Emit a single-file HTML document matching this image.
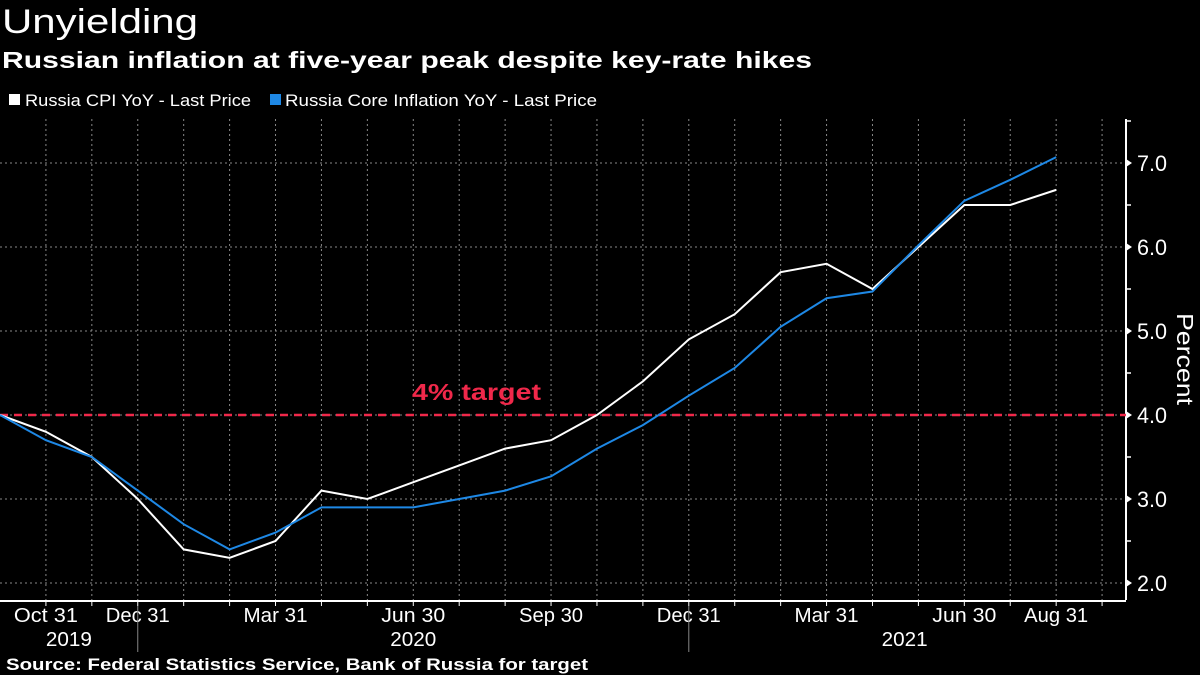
<!DOCTYPE html>
<html><head><meta charset="utf-8"><style>
html,body{margin:0;padding:0;background:#000;}
body{width:1200px;height:675px;overflow:hidden;font-family:"Liberation Sans",sans-serif;color:#fff;position:relative;}
</style></head><body>
<svg id="chart" width="1200" height="675" style="position:absolute;left:0;top:0;" font-family="Liberation Sans, sans-serif">
<text x="2" y="33" fill="#fff" font-size="34" textLength="196" lengthAdjust="spacingAndGlyphs">Unyielding</text>
<text x="2" y="68" fill="#fff" font-size="23" font-weight="bold" textLength="810" lengthAdjust="spacingAndGlyphs">Russian inflation at five-year peak despite key-rate hikes</text>
<g><rect x="9" y="94" width="11" height="11" fill="#fff"/><text x="25" y="106" fill="#fff" font-size="17" textLength="226" lengthAdjust="spacingAndGlyphs">Russia CPI YoY - Last Price</text></g>
<g><rect x="270" y="94" width="11" height="11" fill="#1e88e5"/><text x="285" y="106" fill="#fff" font-size="17" textLength="312" lengthAdjust="spacingAndGlyphs">Russia Core Inflation YoY - Last Price</text></g>
<text x="6" y="670" fill="#fff" font-size="17" font-weight="bold" textLength="582" lengthAdjust="spacingAndGlyphs">Source: Federal Statistics Service, Bank of Russia for target</text>
</svg>
<script>
const cpi=[4.0,3.8,3.5,3.0,2.4,2.3,2.5,3.1,3.0,3.2,3.4,3.6,3.7,4.0,4.4,4.9,5.2,5.7,5.8,5.5,6.0,6.5,6.5,6.68];
const core=[4.0,3.7,3.5,3.1,2.7,2.4,2.6,2.9,2.9,2.9,3.0,3.1,3.27,3.6,3.88,4.23,4.56,5.05,5.39,5.47,6.02,6.55,6.8,7.07];
const yTicks=[2,3,4,5,6,7];
const xLabels=[[1,"Oct 31"],[3,"Dec 31"],[6,"Mar 31"],[9,"Jun 30"],[12,"Sep 30"],[15,"Dec 31"],[18,"Mar 31"],[21,"Jun 30"],[23,"Aug 31"]];
const years=[[1.5,"2019"],[9,"2020"],[19.7,"2021"]];
const target=4.0;
const NS="http://www.w3.org/2000/svg",svg=document.getElementById('chart');
const X=i=>i*45.92, Y=v=>247-(v-6)*84;
function el(t,a,txt){const e=document.createElementNS(NS,t);for(const k in a)e.setAttribute(k,a[k]);if(txt!=null)e.textContent=txt;svg.appendChild(e);return e;}
for(let i=1;i<=24;i++){const g=el('line',{x1:X(i),x2:X(i),y1:119,y2:600,stroke:'#888','stroke-dasharray':'2,3','stroke-width':1});

}
for(const v of yTicks){const g=el('line',{x1:0,x2:1126,y1:Y(v),y2:Y(v),stroke:'#888','stroke-dasharray':'2,3','stroke-width':1});


const t=el('text',{x:1137,y:Y(v)+8,fill:'#fff','font-size':22,textLength:30,lengthAdjust:'spacingAndGlyphs'},v.toFixed(1));


el('path',{d:`M1126 ${Y(v)-4}L1132 ${Y(v)}L1126 ${Y(v)+4}Z`,fill:'#fff'});}
for(let v=2.5;v<7.6;v+=1){el('line',{x1:1126,x2:1131,y1:Y(v),y2:Y(v),stroke:'#fff','stroke-width':1.5});}
const ax=el('line',{x1:1126,x2:1126,y1:119,y2:600,stroke:'#fff','stroke-width':2});


const yt=el('text',{x:1177,y:359,fill:'#fff','font-size':23,transform:'rotate(90 1177 359)','text-anchor':'middle',textLength:92,lengthAdjust:'spacingAndGlyphs'},'Percent');


const xa=el('line',{x1:0,x2:1126,y1:601,y2:601,stroke:'#fff','stroke-width':2});


for(let i=1;i<=24;i++)el('line',{x1:X(i),x2:X(i),y1:601,y2:606,stroke:'#fff','stroke-width':1});
for(const [i,s] of xLabels){const t=el('text',{x:X(i),y:622,fill:'#fff','font-size':20,'text-anchor':'middle',textLength:64,lengthAdjust:'spacingAndGlyphs'},s);

}
for(const [i,s] of years){const t=el('text',{x:X(i),y:646,fill:'#fff','font-size':20,'text-anchor':'middle',textLength:46,lengthAdjust:'spacingAndGlyphs'},s);

}
for(const i of [3,15])el('line',{x1:X(i),x2:X(i),y1:606,y2:652,stroke:'#888','stroke-width':1});
const tl=el('line',{x1:0,x2:1126,y1:Y(target),y2:Y(target),stroke:'#f0284a','stroke-width':2.5,'stroke-dasharray':'8,6'});


const tt=el('text',{x:412,y:Y(target)-15,fill:'#f0284a','font-size':23,'font-weight':'bold',textLength:129,lengthAdjust:'spacingAndGlyphs'},'4% target');


function line(d,c,n){const p=el('polyline',{points:d.map((v,i)=>X(i)+','+Y(v)).join(' '),fill:'none',stroke:c,'stroke-width':2});

}
line(cpi,'#ffffff','cpi-line');
line(core,'#1e88e5','core-inflation-line');
</script>
</body></html>
